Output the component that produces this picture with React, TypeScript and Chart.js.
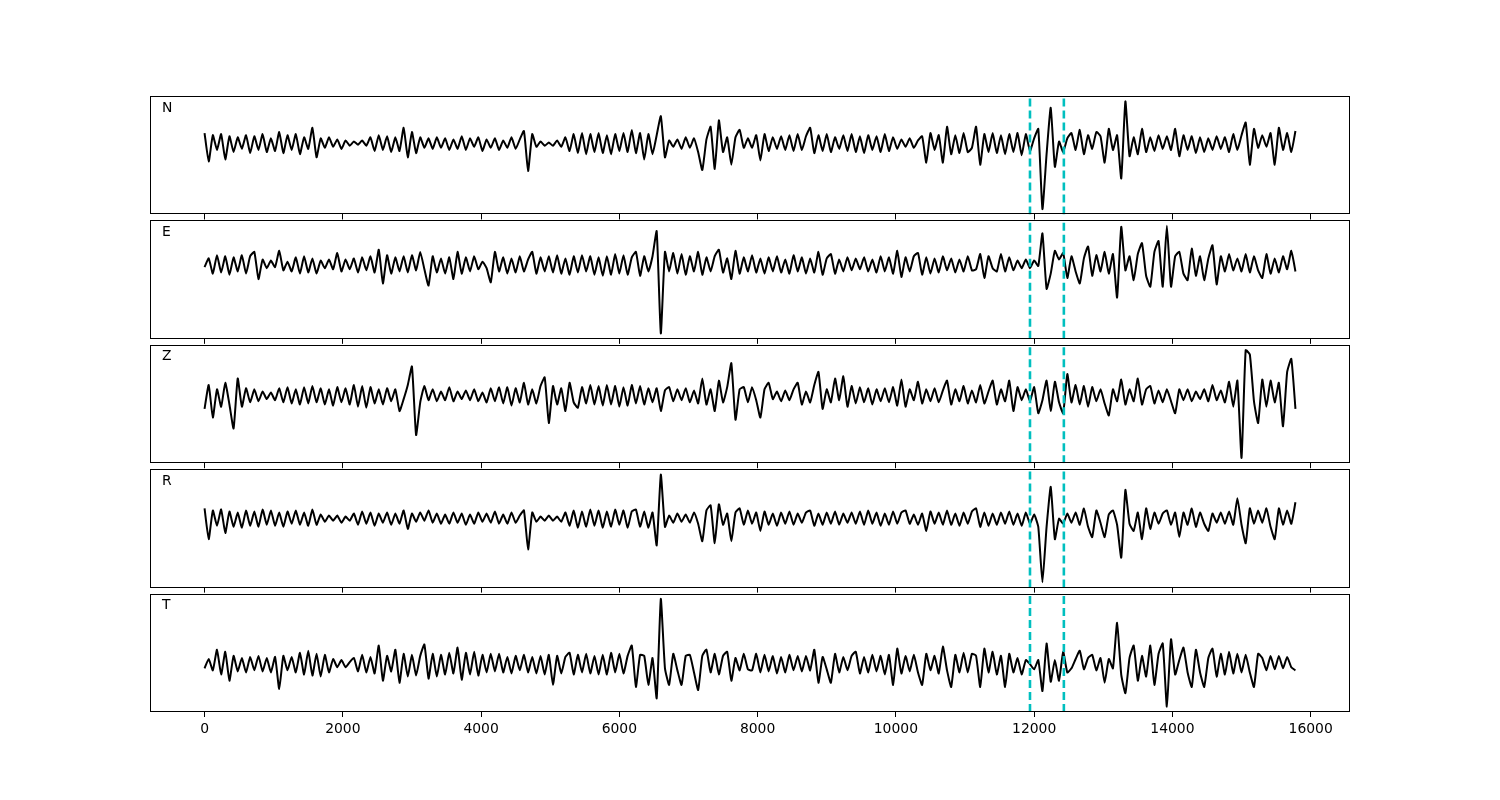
import React, { useEffect, useRef } from "react";
import { Chart, registerables } from "chart.js";

Chart.register(...registerables);

// ---- data -----------------------------------------------------------------
const DT = 60; // sample spacing (x units)
const X_TICKS = [0, 2000, 4000, 6000, 8000, 10000, 12000, 14000, 16000];
const PICKS = [11940, 12430];
const CHANNELS = ["N", "E", "Z", "R", "T"];

const N_TRACE = [
  10, -17, 8, -6, 9, -15, 7, -8, 6, -5, 8, -9,
  7, -6, 9, -8, 5, -7, 11, -9, 8, -6, 9, -10,
  6, -5, 15, -13, 5, -4, 6, -3, 4, -5, 3, -2,
  2, -1, 3, -2, 6, -7, 8, -6, 7, -8, 6, -7,
  15, -13, 11, -9, 6, -4, 5, -5, 6, -4, 5, -6,
  4, -5, 7, -6, 5, -3, 6, -7, 4, -4, 5, -6,
  3, -4, 6, -5, 4, 12, -26, 9, -3, 2, -2, 1,
  -2, 3, -3, 6, -7, 9, -9, 10, -10, 9, -8, 10,
  -9, 8, -10, 9, -7, 10, -8, 13, -9, 10, -15, 9,
  -10, 8, 26, -13, 3, -3, 4, -5, 6, -4, 5, -8,
  -25, 4, 16, -24, 22, -8, 6, -20, 6, 13, -4, 5,
  -4, 8, -16, 9, -7, 6, -5, 7, -6, 8, -7, 9,
  -6, 7, 15, -9, 8, -7, 9, -8, 6, -5, 8, -7,
  9, -8, 7, -9, 8, -6, 7, -8, 9, -7, 6, -5,
  4, -3, 5, -4, 3, 7, -18, 10, -6, 8, -18, 16,
  -10, 8, -9, 10, -8, -4, 16, -20, 9, -8, 10, -9,
  8, -10, 9, -8, 10, -11, 9, -7, 5, 14, -62, -10,
  34, -22, 2, -8, 5, 10, -6, 13, -10, 8, -5, 11,
  7, -18, 14, -6, 8, -33, 40, -12, 6, -10, 14, -8,
  6, -7, 8, -5, 7, -6, 14, -12, 8, -6, 7, -9,
  6, -8, 5, -6, 7, -5, 6, -8, 9, -6, 8, 20,
  -20, 14, -4, 8, -3, 10, -20, 15, -6, 10, -8, 12,
];

const E_TRACE = [
  -2, 6, -8, 9, -7, 8, -9, 7, -6, 9, -8, 8,
  12, -13, 5, -3, 4, -2, 13, -5, 3, -6, 7, -8,
  8, -7, 6, -8, 4, -3, 5, -4, 11, -6, 5, -4,
  6, -7, 7, -5, 8, -7, 14, -17, 9, -8, 7, -6,
  8, -7, 9, -5, 12, -4, -19, 8, -7, 6, -8, 7,
  -13, 12, -8, 7, -6, 8, -4, 3, -3, -16, 12, -6,
  7, -8, 6, -7, 8, -6, 5, 12, -8, 7, -6, 8,
  -7, 9, -8, 6, -9, 8, -7, 9, -6, 8, -9, 7,
  -10, 8, -9, 10, -8, 9, -9, 7, 12, -10, 8, -6,
  8, 31, -63, 12, -6, 11, -8, 10, -9, 8, -6, 12,
  -9, 7, -6, 8, 14, -7, 6, -13, 13, -8, 7, -6,
  9, -7, 6, -8, 7, -6, 8, -7, 5, -8, 9, -6,
  7, -8, 6, -7, 12, -9, 6, 10, -8, 5, -6, 7,
  -5, 6, -4, 7, -6, 5, -7, 8, -6, 7, -8, 13,
  -11, 7, -6, 8, 11, -9, 7, -8, 6, -7, 8, -5,
  6, -7, 5, -6, 8, -5, -4, 10, -12, 8, -3, -6,
  10, -6, 7, -5, 4, -3, 5, -3, 4, -1, 29, -22,
  -8, 13, 5, 11, -12, 8, -6, -17, 6, 17, -10, 9,
  -6, 12, -8, 10, -30, 35, -5, 8, -14, 10, 20, -10,
  -20, 12, 22, -20, 36, -20, 8, 12, -8, -14, 15, -10,
  8, -14, 6, 18, -18, 8, -6, 10, -5, 6, -6, 10,
  -7, 8, -5, -12, 10, -8, 6, -7, 8, -4, 13, -6,
];

const Z_TRACE = [
  -12, 10, -20, 6, -10, 12, -8, -30, 16, -10, 7, -6,
  6, -5, 4, -3, 3, -4, 7, -6, 8, -7, 6, -8,
  8, -7, 9, -6, 7, -8, 6, -9, 8, -6, 7, -8,
  10, -10, 9, -11, 8, -7, 6, -8, 7, -5, 6, -14,
  -3, 10, 27, -36, -6, 9, -4, 6, -5, 4, -4, 8,
  -5, 4, -3, 5, -4, 6, -5, 3, -6, 7, -5, 8,
  -7, 8, -9, 7, -6, 12, -8, 6, -7, 9, 17, -25,
  9, -8, 7, -14, 12, -6, -11, 8, -7, 10, -8, 9,
  -9, 10, -8, 9, -10, 8, -9, 10, -7, 9, -8, 7,
  -6, 7, -14, 5, 8, -5, 6, -4, 7, -6, 5, -7,
  16, -8, 6, -14, 14, -6, 8, 30, -22, 6, 8, -6,
  8, -4, -20, 6, 12, -3, 4, -5, 5, -4, 6, 12,
  -8, 4, -6, 10, 22, -12, 6, -6, 16, -4, 18, -10,
  9, -7, 8, -6, 7, -8, 6, -5, 7, -6, 8, -9,
  15, -10, 6, -4, 13, -7, 6, -5, 7, -6, 5, 14,
  -8, 6, -5, 9, -7, 5, -6, 10, -7, 4, 14, -8,
  6, -5, 14, -14, 8, -4, 6, -5, 8, -16, -4, 14,
  -14, 13, -6, -16, 20, -6, 10, -8, 9, -10, 8, -5,
  6, -7, -18, 6, -5, 15, -8, 6, -5, 16, -8, 6,
  9, -7, 5, -6, 6, -5, -16, 6, -4, 6, -5, 4,
  -3, 6, -5, 10, -4, 5, -6, 13, -10, 14, -57, 42,
  38, -5, -25, 15, -10, 14, -6, 12, -28, 22, 34, -12,
];

const R_TRACE = [
  10, -20, 8, -7, 9, -14, 7, -8, 6, -9, 8, -7,
  7, -8, 9, -6, 8, -7, 6, -8, 7, -5, 8, -6,
  6, -7, 9, -6, 4, -3, 3, -2, 3, -4, 2, -2,
  5, -6, 7, -5, 6, -7, 5, -4, 6, -6, 5, -5,
  8, -10, 5, -3, 6, -2, 8, -4, 5, -5, 4, -5,
  6, -4, 5, -6, 4, -5, 6, -3, 5, -4, 7, -5,
  4, -5, 6, -4, 3, 8, -30, 6, -3, 2, -2, 3,
  -2, 2, -3, 6, -7, 8, -9, 7, -8, 9, -7, 8,
  -9, 7, -8, 9, -6, 8, -9, 7, 9, -8, 7, -9,
  6, -26, 43, -8, 3, -4, 5, -3, 4, -4, 6, -5,
  -22, 8, 13, -24, 14, -6, 5, -22, 6, 10, -6, 8,
  -5, 6, -12, 7, -6, 5, -7, 6, -5, 7, -6, 5,
  -4, 6, 8, -7, 5, -6, 6, -5, 7, -6, 5, -4,
  6, -5, 7, -6, 8, -5, 6, -7, 5, -6, 7, -5,
  6, 8, -5, 4, -6, 5, -12, 7, -5, 6, -6, 8,
  -6, 5, -7, 6, -5, 7, 10, -8, 6, -7, 5, -6,
  6, -5, 7, -6, 5, -7, 6, -5, 4, -8, -62, -8,
  31, -20, 0, -5, 5, -4, 6, -6, 10, -8, -18, 8,
  -4, -18, 4, 8, -6, -38, 28, -5, -12, 6, -20, 10,
  -10, 6, -5, 5, 8, -6, 6, -18, 6, -6, 10, -8,
  6, -5, -12, 5, -4, 6, -5, 7, -6, 20, -6, -24,
  10, -5, 8, -4, 10, -8, -20, 10, -6, 8, -5, 16,
];

const T_TRACE = [
  -4, 5, -6, 14, -10, 12, -16, 8, -7, 6, -8, 7,
  -6, 8, -7, 6, -8, 7, -24, 8, -6, 7, -8, 11,
  -10, 13, -11, 10, -12, 9, -8, 5, -3, 4, -3, 2,
  6, -7, 9, -8, 7, -9, 18, -16, 8, -7, 14, -18,
  10, -12, 9, -11, 8, 19, -14, 10, -12, 9, -10, 11,
  -9, 16, -15, 11, -10, 12, -11, 9, -8, 10, -7, 10,
  -8, 7, -9, 8, -6, 9, -8, 7, -9, 8, -10, 9,
  -20, 8, -9, 7, 11, -10, 9, -8, 10, -9, 8, -10,
  9, -10, 11, -8, 10, -9, 8, 18, -22, 9, 8, -20,
  6, -33, 63, -4, -20, 10, -6, -20, 8, 9, -8, -25,
  8, 14, -8, 10, -10, 8, 12, -16, 6, -6, 10, -5,
  -6, 10, -8, 9, -7, 8, -9, 7, -8, 9, -6, 8,
  -7, 8, -6, 14, -18, 7, -5, -18, 10, -8, 7, -6,
  8, 12, -9, 7, -8, 9, -7, 8, -10, 9, -20, 15,
  -9, 8, -7, 9, -8, -20, 10, -6, 8, -9, 17, -6,
  -22, 9, -8, 11, -8, 10, 8, -22, 15, -8, 12, -10,
  8, -22, 10, -8, 6, -10, 4, 0, -5, 4, -26, 20,
  -17, 4, -16, 12, -8, -4, 5, 13, -5, 6, 9, -6,
  6, -18, 5, -4, 40, -10, -28, 6, 18, -16, 8, -12,
  18, -20, 10, 20, -41, 24, -10, 4, 16, -8, -22, 14,
  -8, -22, 6, 15, -12, 10, -10, 12, -9, 10, -8, 9,
  -8, -22, 10, 6, -6, 8, -5, 8, -4, 7, -3, -6,
];

const TRACES = [N_TRACE, E_TRACE, Z_TRACE, R_TRACE, T_TRACE];

// ---- layout -----------------------------------------------------------------
const FIG_W = 1500;
const FIG_H = 800;
const AX_LEFT = 150;
const AX_RIGHT = 1350;
const AX_TOP = 96;
const AX_BOTTOM = 712;
const HSPACE = 0.05;
const N_PANELS = CHANNELS.length;
const PANEL_H = (AX_BOTTOM - AX_TOP) / (N_PANELS + (N_PANELS - 1) * HSPACE);
const X_LAST = (N_TRACE.length - 1) * DT;
const X_MIN = -0.05 * X_LAST;
const X_MAX = X_LAST * 1.05;
const FONT = "DejaVu Sans";
const FONT_SIZE = 13.9;

const framePlugin = {
  id: "frame",
  afterDatasetsDraw(chart: any, _args: any, opts: any) {
    const { ctx, chartArea: a } = chart;
    ctx.save();
    ctx.strokeStyle = "#000";
    ctx.lineWidth = 1;
    const l = Math.round(a.left) + 0.5;
    const t = Math.round(a.top) + 0.5;
    const r = Math.round(a.right) - 0.5;
    const b = Math.round(a.bottom) - 0.5;
    ctx.strokeRect(l, t, r - l, b - t);
    ctx.fillStyle = "#000";
    ctx.font = `${FONT_SIZE}px "${FONT}"`;
    ctx.textAlign = "left";
    ctx.textBaseline = "middle";
    ctx.fillText(opts.label, a.left + 12, a.top + 12);
    ctx.restore();
  },
};

function Panel({ index }: { index: number }) {
  const ref = useRef<HTMLCanvasElement | null>(null);
  const isBottom = index === N_PANELS - 1;
  const panelTop = AX_TOP + index * PANEL_H * (1 + HSPACE);
  const canvasTop = Math.floor(panelTop) - 6;
  const padTop = panelTop - canvasTop;
  const axisH = isBottom ? 40 : 10;
  const canvasH = Math.ceil(padTop + PANEL_H + axisH);
  const padBottom = canvasH - (padTop + PANEL_H + axisH);

  useEffect(() => {
    const values = TRACES[index];
    const lo = Math.min(...values);
    const hi = Math.max(...values);
    const span = hi - lo;
    const yMin = lo - 0.05 * span;
    const yMax = hi + 0.05 * span;
    const trace = values.map((v, i) => ({ x: i * DT, y: v }));
    const pickSets = PICKS.map((p) => ({
      data: [
        { x: p, y: yMin },
        { x: p, y: yMax },
      ],
      borderColor: "#00BFBF",
      borderWidth: 2.6,
      borderDash: [8, 4],
      pointRadius: 0,
      tension: 0,
      fill: false,
    }));
    const chart = new Chart(ref.current as HTMLCanvasElement, {
      type: "line",
      data: {
        datasets: [
          ...pickSets,
          {
            data: trace,
            borderColor: "#000",
            borderWidth: 2,
            pointRadius: 0,
            tension: 0.15,
            fill: false,
          },
        ],
      },
      options: {
        responsive: false,
        animation: false,
        devicePixelRatio: 1,
        events: [],
        layout: {
          padding: {
            left: AX_LEFT,
            right: FIG_W - AX_RIGHT,
            top: padTop,
            bottom: padBottom,
          },
        },
        plugins: {
          legend: { display: false },
          tooltip: { enabled: false },
          title: { display: false },
          frame: { label: CHANNELS[index] },
        } as any,
        scales: {
          x: {
            type: "linear",
            min: X_MIN,
            max: X_MAX,
            afterBuildTicks: (s: any) => {
              s.ticks = X_TICKS.map((v) => ({ value: v }));
            },
            afterFit: (s: any) => {
              s.height = axisH;
            },
            grid: {
              drawOnChartArea: false,
              drawTicks: true,
              tickLength: 5,
              color: "#000",
              lineWidth: 1,
            },
            border: { display: false },
            ticks: {
              display: isBottom,
              padding: 4,
              color: "#000",
              maxRotation: 0,
              autoSkip: false,
              font: { family: FONT, size: FONT_SIZE },
              callback: (v: any) => String(v),
            },
          },
          y: {
            display: false,
            min: yMin,
            max: yMax,
          },
        },
      },
      plugins: [framePlugin as any],
    });
    return () => chart.destroy();
  }, [index]);

  return (
    <canvas
      ref={ref}
      width={FIG_W}
      height={canvasH}
      style={{
        position: "absolute",
        left: 0,
        top: canvasTop,
        width: FIG_W,
        height: canvasH,
      }}
    />
  );
}

export default function App() {
  return (
    <div
      style={{
        position: "absolute",
        left: 0,
        top: 0,
        width: FIG_W,
        height: FIG_H,
        background: "#fff",
        overflow: "hidden",
      }}
    >
      {CHANNELS.map((c, i) => (
        <Panel key={c} index={i} />
      ))}
    </div>
  );
}
